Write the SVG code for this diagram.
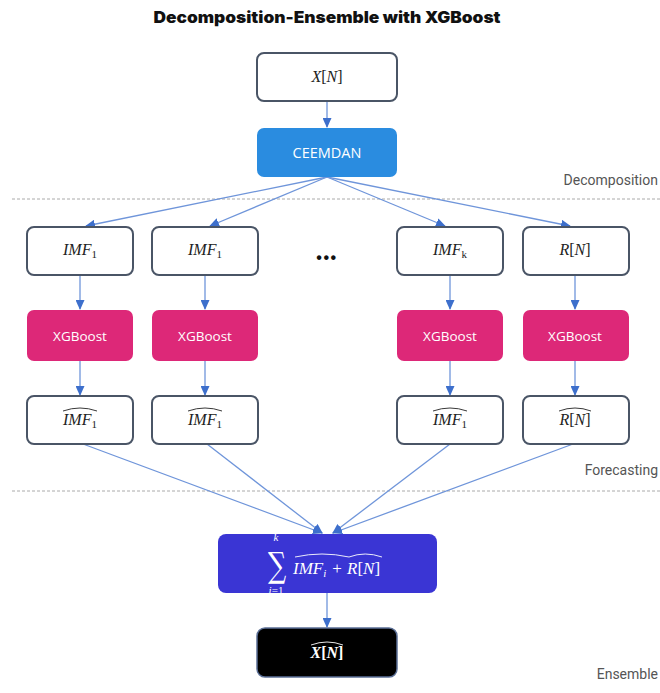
<svg xmlns="http://www.w3.org/2000/svg" width="660" height="693" viewBox="0 0 660 693">
<style>
.box{fill:#fff;stroke:#4a5566;stroke-width:2}
.xgb{fill:#dd2878}
.lbl{font-family:"Open Sans","Liberation Sans",sans-serif;fill:#fff;text-anchor:middle}
.math{font-family:"Liberation Serif","DejaVu Serif",serif;font-style:italic;fill:#222;font-size:16px;text-anchor:middle}
.up{font-style:normal}
.sub{font-size:11px;font-style:normal}
.sec{font-family:Roboto,"Liberation Sans",sans-serif;font-size:14px;fill:#555;text-anchor:end}
.dash{stroke:#aaa;stroke-width:1;stroke-dasharray:3 2}
.conn{stroke:#6f95da;stroke-width:1.3;fill:none}
.hat{fill:none;stroke:#222;stroke-width:0.9}
</style>
<defs>
<marker id="ah" markerWidth="10" markerHeight="9" refX="9" refY="4.5" orient="auto" markerUnits="userSpaceOnUse">
<path d="M0,0 L10,4.5 L0,9 Z" fill="#3d6fcc"/>
</marker>
</defs>
<rect width="660" height="693" fill="#fff"/>
<text x="327" y="23" font-family="Inter,'Liberation Sans',sans-serif" font-weight="900" font-size="16" text-anchor="middle" fill="#111" textLength="347" lengthAdjust="spacingAndGlyphs">Decomposition-Ensemble with XGBoost</text>

<line class="dash" x1="12" y1="199" x2="660" y2="199"/>
<line class="dash" x1="12" y1="491" x2="660" y2="491"/>
<text class="sec" x="658" y="185">Decomposition</text>
<text class="sec" x="658" y="475">Forecasting</text>
<text class="sec" x="658" y="679">Ensemble</text>

<g id="connectors">
<line class="conn" x1="327" y1="102" x2="327" y2="127" marker-end="url(#ah)"/>
<line class="conn" x1="327" y1="177" x2="86" y2="226" marker-end="url(#ah)"/>
<line class="conn" x1="327" y1="177" x2="210" y2="226" marker-end="url(#ah)"/>
<line class="conn" x1="327" y1="177" x2="445" y2="226" marker-end="url(#ah)"/>
<line class="conn" x1="327" y1="177" x2="570" y2="226" marker-end="url(#ah)"/>
<line class="conn" x1="80" y1="275" x2="80" y2="309" marker-end="url(#ah)"/>
<line class="conn" x1="205" y1="275" x2="205" y2="309" marker-end="url(#ah)"/>
<line class="conn" x1="450" y1="275" x2="450" y2="309" marker-end="url(#ah)"/>
<line class="conn" x1="575" y1="275" x2="575" y2="309" marker-end="url(#ah)"/>
<line class="conn" x1="80" y1="361" x2="80" y2="395" marker-end="url(#ah)"/>
<line class="conn" x1="205" y1="361" x2="205" y2="395" marker-end="url(#ah)"/>
<line class="conn" x1="450" y1="361" x2="450" y2="395" marker-end="url(#ah)"/>
<line class="conn" x1="575" y1="361" x2="575" y2="395" marker-end="url(#ah)"/>
<line class="conn" x1="83" y1="444" x2="322" y2="533" marker-end="url(#ah)"/>
<line class="conn" x1="207" y1="444" x2="322" y2="533" marker-end="url(#ah)"/>
<line class="conn" x1="450" y1="444" x2="333" y2="533" marker-end="url(#ah)"/>
<line class="conn" x1="573" y1="444" x2="333" y2="533" marker-end="url(#ah)"/>
<line class="conn" x1="327" y1="593" x2="327" y2="627" marker-end="url(#ah)"/>
</g>

<g id="xn">
<rect class="box" x="257" y="53" width="140" height="48" rx="7"/>
<text class="math" x="327" y="82">X<tspan class="up">[</tspan>N<tspan class="up">]</tspan></text>
</g>
<g id="ceemdan">
<rect x="257" y="128" width="140" height="49" rx="7" fill="#2a8ce0"/>
<text class="lbl" x="327" y="158" font-size="14.5">CEEMDAN</text>
</g>

<g id="imf1">
<rect class="box" x="27" y="227" width="106" height="48" rx="7"/>
<text class="math" x="80" y="255">IMF<tspan class="sub" dy="3">1</tspan></text>
</g>
<g id="imf2">
<rect class="box" x="152" y="227" width="106" height="48" rx="7"/>
<text class="math" x="205" y="255">IMF<tspan class="sub" dy="3">1</tspan></text>
</g>
<g id="dots">
<text x="327" y="263" font-family="'Liberation Sans',sans-serif" font-size="16" font-weight="bold" text-anchor="middle" fill="#111" letter-spacing="1.5">•••</text>
</g>
<g id="imfk">
<rect class="box" x="397" y="227" width="106" height="48" rx="7"/>
<text class="math" x="450" y="255">IMF<tspan class="sub" font-style="italic" dy="3">k</tspan></text>
</g>
<g id="rn">
<rect class="box" x="523" y="227" width="106" height="48" rx="7"/>
<text class="math" x="575" y="255">R<tspan class="up">[</tspan>N<tspan class="up">]</tspan></text>
</g>

<g id="xgb1"><rect class="xgb" x="27" y="310" width="106" height="51" rx="7"/><text class="lbl" x="80" y="341" font-size="13.5">XGBoost</text></g>
<g id="xgb2"><rect class="xgb" x="152" y="310" width="106" height="51" rx="7"/><text class="lbl" x="205" y="341" font-size="13.5">XGBoost</text></g>
<g id="xgb3"><rect class="xgb" x="397" y="310" width="106" height="51" rx="7"/><text class="lbl" x="450" y="341" font-size="13.5">XGBoost</text></g>
<g id="xgb4"><rect class="xgb" x="523" y="310" width="106" height="51" rx="7"/><text class="lbl" x="575" y="341" font-size="13.5">XGBoost</text></g>

<g id="imf1hat">
<rect class="box" x="27" y="396" width="106" height="48" rx="7"/>
<text class="math" x="80" y="425">IMF<tspan class="sub" dy="3">1</tspan></text>
<path class="hat" d="M63,411 Q80,405 97,411"/>
</g>
<g id="imf2hat">
<rect class="box" x="152" y="396" width="106" height="48" rx="7"/>
<text class="math" x="205" y="425">IMF<tspan class="sub" dy="3">1</tspan></text>
<path class="hat" d="M188,411 Q205,405 222,411"/>
</g>
<g id="imfkhat">
<rect class="box" x="397" y="396" width="106" height="48" rx="7"/>
<text class="math" x="450" y="425">IMF<tspan class="sub" dy="3">1</tspan></text>
<path class="hat" d="M433,411 Q450,405 467,411"/>
</g>
<g id="rnhat">
<rect class="box" x="523" y="396" width="106" height="48" rx="7"/>
<text class="math" x="575" y="425">R<tspan class="up">[</tspan>N<tspan class="up">]</tspan></text>
<path class="hat" d="M559,411 Q575,405 591,411"/>
</g>

<g id="sum">
<rect x="218" y="534" width="219" height="59" rx="8" fill="#3a35d4"/>
<text transform="translate(277,577) scale(0.85,1.15)" x="0" y="0" font-family="'DejaVu Serif','Liberation Serif',serif" font-size="30" fill="#fff" text-anchor="middle">∑</text>
<text x="276" y="541" font-family="'Liberation Serif',serif" font-style="italic" font-size="11" fill="#fff" text-anchor="middle">k</text>
<text x="276" y="594" font-family="'Liberation Serif',serif" font-size="11" fill="#fff" text-anchor="middle"><tspan font-style="italic">i</tspan>=1</text>
<text x="293" y="574" font-family="'Liberation Serif',serif" font-style="italic" font-size="17" fill="#fff">IMF<tspan font-size="11" dy="3">i</tspan></text>
<text x="337" y="574" font-family="'Liberation Serif',serif" font-size="17" fill="#fff" text-anchor="middle">+</text>
<text x="347" y="574" font-family="'Liberation Serif',serif" font-style="italic" font-size="17" fill="#fff">R<tspan font-style="normal">[</tspan>N<tspan font-style="normal">]</tspan></text>
<path d="M295,557 Q322,551 349,557" fill="none" stroke="#fff" stroke-width="0.9"/>
<path d="M349,557 Q365,551 382,557" fill="none" stroke="#fff" stroke-width="0.9"/>
</g>

<g id="xnhat">
<rect x="257" y="628" width="140" height="49" rx="8" fill="#000" stroke="#5b6f96" stroke-width="1.5"/>
<text x="327" y="658" font-family="'Liberation Serif',serif" font-style="italic" font-weight="bold" font-size="16" fill="#fff" text-anchor="middle">X<tspan font-style="normal">[</tspan>N<tspan font-style="normal">]</tspan></text>
<path d="M311,645 Q327,639 343,645" fill="none" stroke="#fff" stroke-width="0.9"/>
</g>
</svg>
